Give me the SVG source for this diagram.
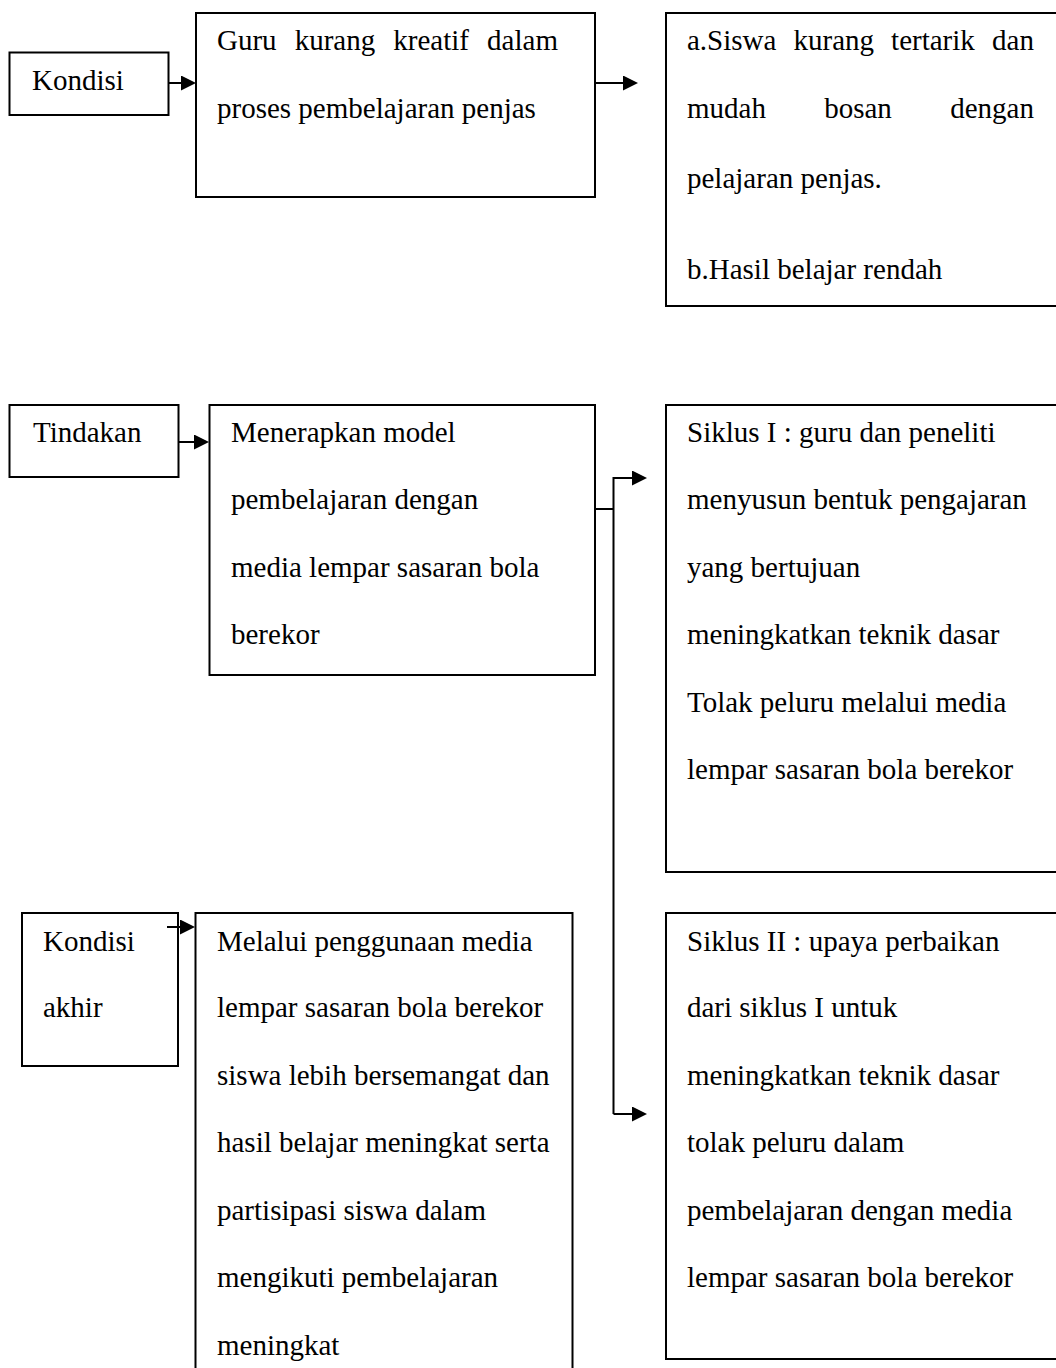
<svg xmlns="http://www.w3.org/2000/svg" width="1056" height="1368" viewBox="0 0 1056 1368">
<style>
.box{fill:none;stroke:#000;stroke-width:2}
.t{font-family:"Liberation Serif","Times New Roman",serif;font-size:29px;fill:#000}
.c{fill:none;stroke:#000;stroke-width:2}
</style>
<defs>
<marker id="ah" viewBox="0 0 15 15" refX="0" refY="7.5" markerWidth="15" markerHeight="15" markerUnits="userSpaceOnUse" orient="auto">
<path d="M0,0 L15,7.5 L0,15 z" fill="#000"/>
</marker>
</defs>
<rect width="1056" height="1368" fill="#fff"/>

<g id="kondisi">
<rect class="box" x="9.5" y="52.5" width="159" height="62.5"/>
<text class="t" x="32" y="90">Kondisi</text>
</g>

<g id="guru">
<rect class="box" x="196" y="13" width="399" height="184"/>
<text class="t" y="50"><tspan x="217">Guru</tspan><tspan x="294.7">kurang</tspan><tspan x="393.3">kreatif</tspan><tspan x="487.1">dalam</tspan></text>
<text class="t" x="217" y="118">proses pembelajaran penjas</text>
</g>

<g id="akibat">
<rect class="box" x="666" y="13" width="400" height="293"/>
<text class="t" y="50"><tspan x="687">a.Siswa</tspan><tspan x="793.5">kurang</tspan><tspan x="891.1">tertarik</tspan><tspan x="992.1">dan</tspan></text>
<text class="t" y="118"><tspan x="687">mudah</tspan><tspan x="824.2">bosan</tspan><tspan x="950.2">dengan</tspan></text>
<text class="t" x="687" y="188">pelajaran penjas.</text>
<text class="t" x="687" y="279">b.Hasil belajar rendah</text>
</g>

<g id="tindakan">
<rect class="box" x="9.5" y="405" width="169" height="72"/>
<text class="t" x="33" y="442">Tindakan</text>
</g>

<g id="menerapkan">
<rect class="box" x="209.5" y="405" width="385.5" height="270"/>
<text class="t" x="231" y="442">Menerapkan model</text>
<text class="t" x="231" y="509">pembelajaran dengan</text>
<text class="t" x="231" y="577">media lempar sasaran bola</text>
<text class="t" x="231" y="644">berekor</text>
</g>

<g id="siklus1">
<rect class="box" x="666" y="405" width="400" height="467"/>
<text class="t" x="687" y="442">Siklus I : guru dan peneliti</text>
<text class="t" x="687" y="509">menyusun bentuk pengajaran</text>
<text class="t" x="687" y="577">yang bertujuan</text>
<text class="t" x="687" y="644">meningkatkan teknik dasar</text>
<text class="t" x="687" y="712">Tolak peluru melalui media</text>
<text class="t" x="687" y="779">lempar sasaran bola berekor</text>
</g>

<g id="kondisi-akhir">
<rect class="box" x="22" y="913" width="156" height="153"/>
<text class="t" x="43" y="951">Kondisi</text>
<text class="t" x="43" y="1017">akhir</text>
</g>

<g id="melalui">
<rect class="box" x="195.5" y="913" width="377" height="470"/>
<text class="t" x="217" y="951">Melalui penggunaan media</text>
<text class="t" x="217" y="1017">lempar sasaran bola berekor</text>
<text class="t" x="217" y="1085">siswa lebih bersemangat dan</text>
<text class="t" x="217" y="1152">hasil belajar meningkat serta</text>
<text class="t" x="217" y="1220">partisipasi siswa dalam</text>
<text class="t" x="217" y="1287">mengikuti pembelajaran</text>
<text class="t" x="217" y="1355">meningkat</text>
</g>

<g id="siklus2">
<rect class="box" x="666" y="913" width="400" height="446"/>
<text class="t" x="687" y="951">Siklus II : upaya perbaikan</text>
<text class="t" x="687" y="1017">dari siklus I untuk</text>
<text class="t" x="687" y="1085">meningkatkan teknik dasar</text>
<text class="t" x="687" y="1152">tolak peluru dalam</text>
<text class="t" x="687" y="1220">pembelajaran dengan media</text>
<text class="t" x="687" y="1287">lempar sasaran bola berekor</text>
</g>

<g id="connectors">
<path class="c" d="M168.5,83 H181" marker-end="url(#ah)"/>
<path class="c" d="M596,83 H623" marker-end="url(#ah)"/>
<path class="c" d="M178,442 H194" marker-end="url(#ah)"/>
<path class="c" d="M167,927 H180" marker-end="url(#ah)"/>
<path class="c" d="M595,509 H613.5"/>
<path class="c" d="M613.5,1114 V478 H632" marker-end="url(#ah)"/>
<path class="c" d="M613.5,1114 H632" marker-end="url(#ah)"/>
</g>
</svg>
